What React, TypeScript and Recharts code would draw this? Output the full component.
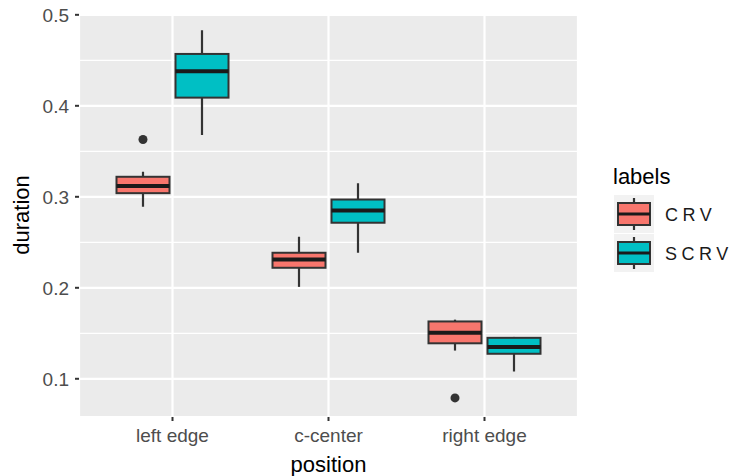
import React from 'react';
import { ComposedChart, Bar, XAxis, YAxis, CartesianGrid } from 'recharts';

const positions = ['left edge', 'c-center', 'right edge'];

const crvMin = [0.289, 0.201, 0.131];
const crvQ1 = [0.304, 0.222, 0.139];
const crvMedian = [0.312, 0.231, 0.1505];
const crvQ3 = [0.322, 0.2385, 0.163];
const crvMax = [0.3275, 0.256, 0.165];
const crvOutliers = [[0.363], [], [0.079]];

const scrvMin = [0.368, 0.2385, 0.108];
const scrvQ1 = [0.409, 0.2715, 0.1275];
const scrvMedian = [0.438, 0.285, 0.135];
const scrvQ3 = [0.457, 0.297, 0.145];
const scrvMax = [0.483, 0.315, 0.146];
const scrvOutliers: number[][] = [[], [], []];

const yTicks = [0.1, 0.2, 0.3, 0.4, 0.5];
const yMinorTicks = [0.15, 0.25, 0.35, 0.45];
const yDomain = [0.058, 0.502];

const seriesLabels = ['CRV', 'SCRV'];
const seriesColors = ['#F8766D', '#00BFC4'];

const FONT = '"Liberation Sans", Arial, Helvetica, sans-serif';

type Stats = { min: number; q1: number; med: number; q3: number; max: number; out: number[] };

const data = positions.map((p, i) => ({
  position: p,
  crv: { min: crvMin[i], q1: crvQ1[i], med: crvMedian[i], q3: crvQ3[i], max: crvMax[i], out: crvOutliers[i] },
  scrv: { min: scrvMin[i], q1: scrvQ1[i], med: scrvMedian[i], q3: scrvQ3[i], max: scrvMax[i], out: scrvOutliers[i] },
}));

const makeBoxShape = (key: 'crv' | 'scrv', fill: string) => (props: any) => {
  const { x, y, width, height, payload } = props;
  const s: Stats = payload[key];
  const k = height / (s.max - s.min);
  const py = (v: number) => y + (s.max - v) * k;
  const cx = Math.round(x + width / 2);
  return (
    <g>
      <line x1={cx} x2={cx} y1={py(s.max)} y2={py(s.q3)} stroke="#333333" strokeWidth={2.2} />
      <line x1={cx} x2={cx} y1={py(s.q1)} y2={py(s.min)} stroke="#333333" strokeWidth={2.2} />
      <rect x={x} y={py(s.q3)} width={width} height={py(s.q1) - py(s.q3)} fill={fill} stroke="#333333" strokeWidth={2} />
      <line x1={x} x2={x + width} y1={py(s.med)} y2={py(s.med)} stroke="#1a1a1a" strokeWidth={4} />
      {s.out.map((o, j) => (
        <circle key={j} cx={cx} cy={py(o)} r={4.5} fill="#333333" />
      ))}
    </g>
  );
};

const XTitle = (props: any) => {
  const { viewBox } = props;
  const cx = viewBox.x + viewBox.width / 2;
  return (
    <text x={cx} y={viewBox.y + viewBox.height - 4} textAnchor="middle" fontSize={22} fill="#000" fontFamily={FONT}>
      position
    </text>
  );
};

const YTitle = (props: any) => {
  const { viewBox } = props;
  const cy = viewBox.y + viewBox.height / 2;
  const bx = 29;
  return (
    <text x={bx} y={cy} transform={`rotate(-90 ${bx} ${cy})`} textAnchor="middle" fontSize={22} fill="#000" fontFamily={FONT}>
      duration
    </text>
  );
};

const Legend = () => {
  const centers = [214, 253];
  return (
    <svg width={739} height={476} style={{ position: 'absolute', left: 0, top: 0, pointerEvents: 'none' }}>
      <text x={613} y={184} fontSize={22} fill="#000" fontFamily={FONT}>labels</text>
      {seriesLabels.map((lab, i) => {
        const c = centers[i];
        return (
          <g key={lab}>
            <rect x={614} y={c - 19} width={40} height={38} fill="#F2F2F2" />
            <line x1={634} x2={634} y1={c - 16} y2={c + 16} stroke="#333333" strokeWidth={2.2} />
            <rect x={618} y={c - 11} width={32} height={22} fill={seriesColors[i]} stroke="#333333" strokeWidth={2} />
            <line x1={618} x2={650} y1={c} y2={c} stroke="#1a1a1a" strokeWidth={3} />
            <text x={665} y={c + 6.5} fontSize={18} letterSpacing={4.5} fill="#1a1a1a" fontFamily={FONT}>{lab}</text>
          </g>
        );
      })}
    </svg>
  );
};

export default function App() {
  return (
    <div style={{ position: 'absolute', left: 0, top: 0, width: 739, height: 476, background: '#fff' }}>
      <ComposedChart
        width={739}
        height={476}
        data={data}
        margin={{ top: 13, right: 161, bottom: 0, left: 0 }}
        barSize={53}
        barGap={6}
      >
        <CartesianGrid vertical={false} horizontalValues={yMinorTicks} stroke="#FFFFFF" strokeWidth={1.2} fill="#EBEBEB" />
        <CartesianGrid stroke="#FFFFFF" strokeWidth={2.2} />
        <XAxis
          dataKey="position"
          type="category"
          padding={{ left: 15.5, right: 15.5 }}
          height={59}
          interval={0}
          axisLine={false}
          tickSize={4}
          tickMargin={8}
          tickLine={{ stroke: '#333333', strokeWidth: 2 }}
          tick={{ fontSize: 19, fill: '#4D4D4D', fontFamily: FONT }}
          label={<XTitle />}
        />
        <YAxis
          type="number"
          domain={yDomain}
          ticks={yTicks}
          allowDataOverflow
          width={79}
          axisLine={false}
          tickSize={4}
          tickMargin={6}
          tickLine={{ stroke: '#333333', strokeWidth: 2 }}
          tick={{ fontSize: 19, fill: '#4D4D4D', fontFamily: FONT }}
          tickFormatter={(v: number) => v.toFixed(1)}
          label={<YTitle />}
        />
        <Bar
          dataKey={(d: any) => [d.crv.min, d.crv.max]}
          name={seriesLabels[0]}
          fill={seriesColors[0]}
          shape={makeBoxShape('crv', seriesColors[0])}
          isAnimationActive={false}
        />
        <Bar
          dataKey={(d: any) => [d.scrv.min, d.scrv.max]}
          name={seriesLabels[1]}
          fill={seriesColors[1]}
          shape={makeBoxShape('scrv', seriesColors[1])}
          isAnimationActive={false}
        />
      </ComposedChart>
      <Legend />
    </div>
  );
}
